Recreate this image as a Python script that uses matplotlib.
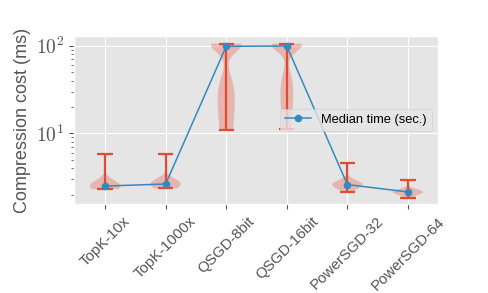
import matplotlib
matplotlib.use("Agg")
import matplotlib.pyplot as plt
import matplotlib.ticker as mticker
import numpy as np

plt.style.use("ggplot")
plt.rcParams["mathtext.fontset"] = "cm"
plt.rcParams["font.family"] = ["Liberation Sans", "DejaVu Sans"]

methods = ["TopK-10x", "TopK-1000x", "QSGD-8bit", "QSGD-16bit", "PowerSGD-32", "PowerSGD-64"]

topk_10x = [2.32, 2.34, 2.36, 2.38, 2.4, 2.42, 2.44, 2.46, 2.5, 2.51, 2.53, 2.56, 2.6, 2.65, 2.72, 2.8, 2.95, 3.1, 5.8]
topk_1000x = [2.36, 2.4, 2.45, 2.5, 2.54, 2.58, 2.6, 2.62, 2.64, 2.65, 2.67, 2.7, 2.72, 2.76, 2.8, 2.88, 3.0, 3.15, 5.9]
qsgd_8bit = [11.0, 16, 19, 22, 25, 28, 32, 37, 97, 98, 98.5, 99, 99.5, 100, 100.5, 101, 102, 103, 104, 105, 106]
qsgd_16bit = [11.1, 20, 26, 31, 36, 42, 97, 98.5, 99, 99.5, 100, 100.5, 101, 101.5, 102, 103, 104, 106]
powersgd_32 = [2.12, 2.4, 2.45, 2.5, 2.55, 2.58, 2.6, 2.62, 2.65, 2.7, 2.75, 2.85, 3.0, 4.6]
powersgd_64 = [1.85, 2.0, 2.05, 2.1, 2.12, 2.14, 2.16, 2.18, 2.22, 2.28, 2.38, 2.98]

samples = [topk_10x, topk_1000x, qsgd_8bit, qsgd_16bit, powersgd_32, powersgd_64]

fig = plt.figure(figsize=(4.88, 2.93), dpi=100)
ax = fig.add_axes([0.152, 0.304, 0.746, 0.573])

pos = np.arange(1, len(methods) + 1)
vp = ax.violinplot(samples, positions=pos, widths=0.5, bw_method=0.45)
for b in vp["bodies"]:
    b.set_facecolor("#E24A33")
    b.set_edgecolor("none")
    b.set_alpha(0.3)
for k in ("cbars", "cmins", "cmaxes"):
    vp[k].set_color("#E24A33")
    vp[k].set_linewidth(1.6)

medians = [np.median(s) for s in samples]
ax.plot(pos, medians, marker="o", color="#348ABD", markersize=4.5, linewidth=1.1,
        label="Median time (sec.)")

ax.set_yscale("log")
ax.set_ylim(1.57, 129)
ax.set_xlim(0.49, 6.5)
ax.yaxis.set_major_formatter(mticker.FuncFormatter(lambda v, p: r"$10^{%d}$" % round(np.log10(v))))
ax.set_xticks(pos)
ax.set_xticklabels(methods, rotation=45, fontsize=10.8)
ax.tick_params(axis="x", pad=4)
ax.tick_params(axis="y", labelsize=14)
ax.set_ylabel("Compression cost (ms)", fontsize=13)
ax.legend(loc="center right", fontsize=9.3)

fig.savefig("out.png", dpi=100)
